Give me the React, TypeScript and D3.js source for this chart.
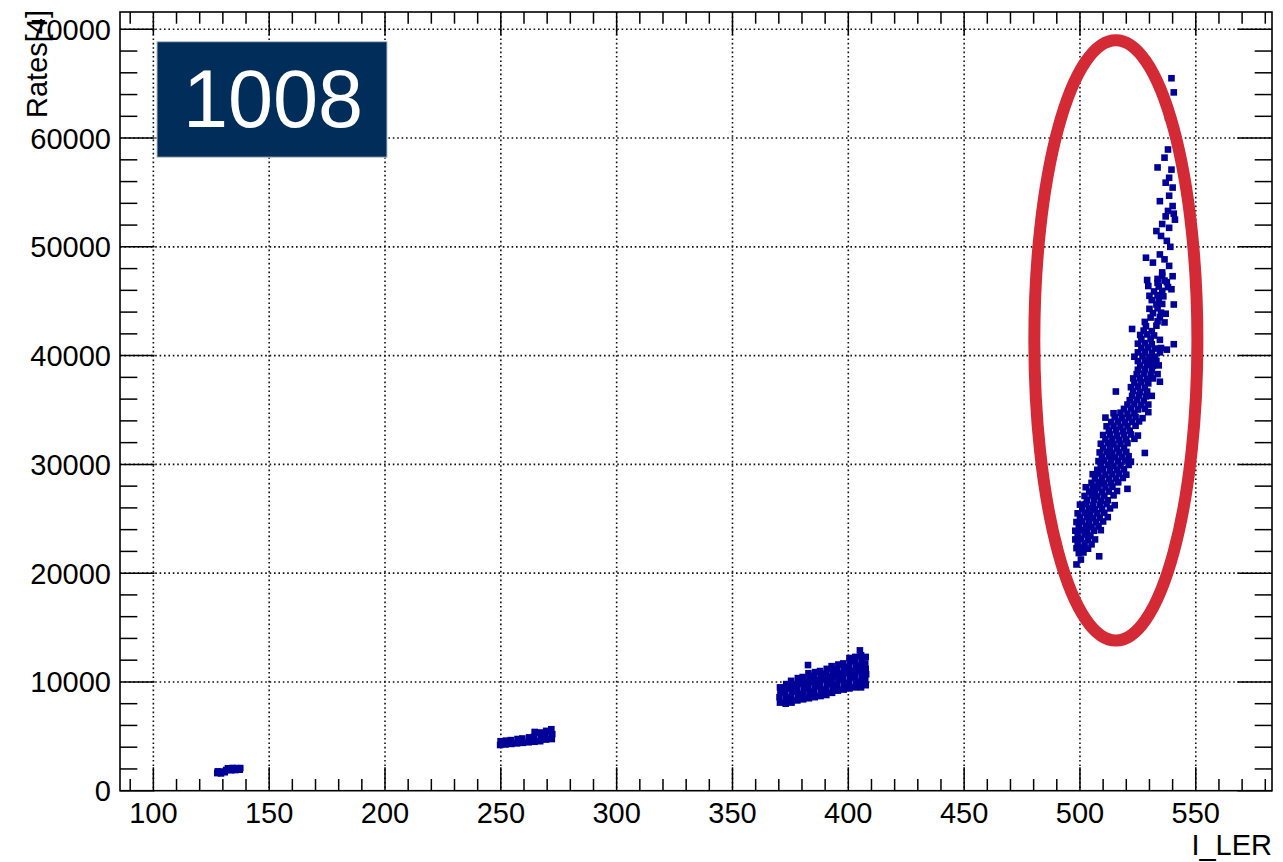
import React from "react";
import * as d3 from "d3";

// Beam current (I_LER) versus measured rate, four running periods.
const FONT = "'Liberation Sans', Arial, Helvetica, sans-serif";

const xTickValues = [100, 150, 200, 250, 300, 350, 400, 450, 500, 550];
const yTickValues = [0, 10000, 20000, 30000, 40000, 50000, 60000, 70000];
const xAxisTitle = "I_LER";
const yAxisTitle = "Rates[4]";
const runLabel = "1008";

// Period 1: lowest current
const runA: [number, number][] = [
  [127.6, 1620], [127.8, 1780], [129.2, 1590], [129.6, 1760], [130.8, 1700],
  [131.4, 1900], [132.2, 2060], [133.6, 1880], [134.2, 2090], [135.4, 1900],
  [136.2, 2070], [137.3, 1930], [137.5, 2080],
];

// Period 2
const runB: [number, number][] = [
  [249.7, 4200], [249.9, 4550], [252, 4250], [252.2, 4600], [254.5, 4300],
  [254.3, 4650], [257, 4350], [257.2, 4750], [259.5, 4400], [259.3, 4800],
  [262, 4450], [262.2, 4900], [264.5, 4500], [264.3, 4950], [264.6, 5400],
  [267, 4550], [267.2, 5050], [266.8, 5350], [269.5, 4700], [269.3, 5150],
  [269.6, 5500], [272, 4750], [272.2, 5200], [271.8, 5650],
];

// Period 3
const runC: [number, number][] = [
  [370.5, 8100], [370.3, 8600], [370.7, 9100], [370.5, 9500],
  [373, 8000], [373.2, 8500], [372.8, 9000], [373, 9400], [373.2, 9800],
  [375.5, 8100], [375.3, 8600], [375.7, 9100], [375.5, 9600], [375.3, 10100],
  [378, 8300], [378.2, 8800], [377.8, 9300], [378, 9800], [378.2, 10350],
  [380.5, 8400], [380.3, 8900], [380.7, 9400], [380.5, 9900], [380.3, 10450],
  [383, 8500], [383.2, 9000], [382.8, 9500], [383, 10000], [383.2, 10500], [382.8, 10800], [382.6, 11550],
  [385.5, 8600], [385.3, 9100], [385.7, 9600], [385.5, 10100], [385.3, 10550], [385.7, 10900],
  [388, 8700], [388.2, 9200], [387.8, 9700], [388, 10200], [388.2, 10650], [387.8, 11000],
  [390.5, 8800], [390.3, 9300], [390.7, 9800], [390.5, 10300], [390.3, 10750], [390.7, 11200],
  [393, 9000], [393.2, 9500], [392.8, 10000], [393, 10500], [393.2, 11000], [392.8, 11450],
  [395.5, 9200], [395.3, 9700], [395.7, 10200], [395.5, 10700], [395.3, 11150], [395.7, 11600],
  [398, 9300], [398.2, 9800], [397.8, 10300], [398, 10800], [398.2, 11300], [397.8, 11700],
  [400.5, 9400], [400.3, 9900], [400.7, 10400], [400.5, 10900], [400.3, 11400], [400.7, 11900], [400.5, 12200],
  [403, 9500], [403.2, 10000], [402.8, 10500], [403, 11000], [403.2, 11500], [402.8, 12000], [403, 12300],
  [405.5, 9500], [405.3, 10000], [405.7, 10500], [405.5, 11000], [405.3, 11500], [405.7, 12000], [405.5, 12450], [405, 12900],
  [407.5, 9700], [407.3, 10200], [407.7, 10700], [407.5, 11200], [407.3, 11700], [407.5, 12300],
];

// Period 4: highest current, steep rise
const runD: [number, number][] = [
  [498.5, 20800], [500.4, 21250], [508.3, 21550], [499.5, 21850], [501.5, 21900],
  [498.5, 22300], [501, 22350], [503.5, 22250],
  [499, 22700], [502, 22750], [505, 22650],
  [498, 23100], [500.5, 23150], [503.5, 23050], [506.5, 23100],
  [499, 23500], [502, 23550], [504.5, 23450],
  [498, 23900], [500.5, 23950], [503, 23850], [506, 23900], [509, 23950],
  [499.5, 24300], [502.5, 24350], [505, 24250], [508, 24300],
  [498.5, 24700], [501, 24750], [504, 24650], [507, 24700], [510, 24750],
  [500, 25100], [503, 25150], [505.5, 25050], [508.5, 25100], [512, 25150],
  [499, 25500], [502, 25550], [504.5, 25450], [507.5, 25500], [510.5, 25550],
  [501, 25900], [504, 25950], [506.5, 25850], [509.5, 25900], [513, 25950],
  [500, 26300], [502.5, 26350], [505.5, 26250], [508.5, 26300], [511.5, 26350], [515, 26250],
  [503, 26700], [506, 26750], [509, 26650], [512, 26700],
  [502, 27100], [505, 27150], [507.5, 27050], [510.5, 27100], [514.5, 27150],
  [504, 27500], [506.5, 27550], [509.5, 27450], [512.5, 27500], [516, 27550],
  [502.5, 27900], [505.5, 27950], [508, 27850], [511, 27900], [514, 27950], [520.5, 27750],
  [505, 28300], [508, 28350], [510.5, 28250], [513.5, 28300], [516.5, 28350],
  [506.5, 28700], [509.5, 28750], [512.5, 28650], [515.5, 28700], [518.5, 28750],
  [505.5, 29100], [508, 29150], [511, 29050], [514, 29100], [517, 29150], [520, 29050],
  [507.5, 29500], [510, 29550], [513, 29450], [516, 29500], [519, 29550],
  [509, 29900], [512, 29950], [514.5, 29850], [517.5, 29900], [521, 29950],
  [508, 30300], [510.5, 30350], [513.5, 30250], [516.5, 30300], [519.5, 30350], [522, 30250],
  [509.5, 30700], [512.5, 30750], [515, 30650], [518, 30700], [521, 30750],
  [508.5, 31100], [511.5, 31150], [514, 31050], [517, 31100], [520, 31150], [528, 31050],
  [510, 31500], [513, 31550], [516, 31450], [519, 31500],
  [509, 31900], [512, 31950], [514.5, 31850], [517.5, 31900], [520.5, 31950],
  [511, 32300], [514, 32350], [517, 32250], [520, 32300], [523.5, 32350],
  [510, 32700], [513, 32750], [516, 32650], [519, 32700], [522, 32750], [525, 32650],
  [512.5, 33100], [515.5, 33150], [518.5, 33050], [521.5, 33100],
  [511.5, 33500], [514.5, 33550], [517.5, 33450], [520.5, 33500], [524, 33550],
  [513.5, 33900], [516.5, 33950], [519.5, 33850], [522.5, 33900], [525.5, 33950],
  [511, 34300], [515, 34350], [518, 34250], [521, 34300], [524, 34350], [527, 34250],
  [514.5, 34700], [517.5, 34750], [520.5, 34650], [523.5, 34700], [529.5, 34800],
  [519, 35100], [522, 35150], [525, 35050], [528, 35100],
  [520.5, 35500], [523.5, 35550], [526.5, 35450], [529.5, 35500],
  [521.5, 35900], [524.5, 35950], [527.5, 35850],
  [522.5, 36300], [525.5, 36350], [528.5, 36250], [531, 36300],
  [515.5, 36700], [523, 36750], [526, 36650], [529, 36700],
  [522, 37100], [525, 37150], [528, 37050],
  [523.5, 37500], [526.5, 37550], [529.5, 37450], [534.5, 37600],
  [523, 37900], [526, 37950], [529, 37850], [531.5, 37900],
  [524.5, 38300], [527.5, 38350], [530.5, 38250], [533.5, 38300],
  [525, 38700], [528, 38750], [531, 38650],
  [526, 39100], [529, 39150], [531.5, 39050], [534, 39100],
  [525, 39500], [528, 39550], [530.5, 39450], [533, 39500],
  [523.5, 39900], [527, 39950], [530, 39850], [532.5, 39900],
  [525, 40300], [528, 40350], [531, 40250], [534.5, 40300], [537.5, 40550],
  [526.5, 40700], [529.5, 40750], [532.5, 40650], [535, 40700],
  [525, 41100], [528, 41150], [531, 41050], [540.5, 41050],
  [526.5, 41500], [530.5, 41550], [534.5, 41450],
  [526, 41900], [529, 41950], [532, 41850],
  [522.5, 42450], [527.5, 42300], [531, 42250],
  [528.5, 42700], [533, 42750],
  [528, 43100], [533.5, 43150], [536.5, 43050],
  [530.5, 43500], [534.5, 43550],
  [531.5, 43900], [535, 43950], [537, 43850],
  [530, 44300], [533.5, 44350],
  [533, 44700], [535.5, 44750], [540.5, 44700],
  [531, 45100], [534, 45150],
  [530, 45500], [533.5, 45550], [536, 45450],
  [532, 45900], [535.5, 45950], [539.5, 46100],
  [529.5, 46400], [534, 46350], [537.5, 46750],
  [533.5, 46700], [538, 46300],
  [529, 46950], [533.5, 47050], [536.5, 46900],
  [535.5, 47350], [540, 47300],
  [535.5, 47650],
  [538.5, 48250], [531.5, 48550], [536.5, 48850], [528.5, 49000], [534.5, 49300],
  [539, 50000], [537.5, 50550], [535, 51000], [533, 51450], [538.5, 51750],
  [535.5, 52100], [541, 52500], [537, 52800], [540.5, 53050], [538, 53300],
  [540, 53750], [534.5, 54200], [538.5, 54700], [540, 55450], [537, 55900],
  [538.5, 56350], [539.5, 57100], [533.5, 57300], [536.5, 58200], [538, 58950],
  [538, 61900], [540.5, 64200], [539.5, 65500],
];

// Highlight ring around the high-current period (centre, half-axes in data units)
const highlight = { cx: 515.5, cy: 41400, rx: 35.2, ry: 27600 };

const W = 1283;
const H = 862;
const plot = { left: 120, top: 12, right: 1272, bottom: 790.7 };

export default function App() {
  const x = d3.scaleLinear().domain([85.6, 582.9]).range([plot.left, plot.right]);
  const y = d3.scaleLinear().domain([0, 71590]).range([plot.bottom, plot.top]);

  const xMinor = d3.range(90, 582, 10).filter((v) => v % 50 !== 0);
  const yMinor = d3.range(0, 71590, 2000).filter((v) => v % 10000 !== 0);

  const xMajLen = 23.4;
  const yMajLen = 34.6;
  const tickStroke = { stroke: "#000", strokeWidth: 1.5 };
  const gridStyle = { stroke: "#111", strokeWidth: 1.6, strokeDasharray: "1.6 2.8" };

  const points = [...runA, ...runB, ...runC, ...runD];
  const ms = 6.6;

  return (
    <svg
      width={W}
      height={H}
      style={{ position: "absolute", left: 0, top: 0, background: "#fff" }}
      fontFamily={FONT}
    >
      <rect x={0} y={0} width={W} height={H} fill="#fff" />

      {/* grid */}
      {xTickValues.map((v) => (
        <line key={"gx" + v} x1={x(v)} x2={x(v)} y1={plot.top} y2={plot.bottom} {...gridStyle} />
      ))}
      {yTickValues.filter((v) => v > 0).map((v) => (
        <line key={"gy" + v} x1={plot.left} x2={plot.right} y1={y(v)} y2={y(v)} {...gridStyle} />
      ))}

      {/* markers */}
      <g fill="#000099">
        {points.map(([a, b], i) => (
          <rect key={i} x={x(a) - ms / 2} y={y(b) - ms / 2} width={ms} height={ms} />
        ))}
      </g>

      {/* frame */}
      <rect
        x={plot.left}
        y={plot.top}
        width={plot.right - plot.left}
        height={plot.bottom - plot.top}
        fill="none"
        stroke="#000"
        strokeWidth={1.6}
      />

      {/* x ticks, bottom and top */}
      {xTickValues.map((v) => (
        <g key={"xt" + v}>
          <line x1={x(v)} x2={x(v)} y1={plot.bottom} y2={plot.bottom - xMajLen} {...tickStroke} />
          <line x1={x(v)} x2={x(v)} y1={plot.top} y2={plot.top + xMajLen} {...tickStroke} />
        </g>
      ))}
      {xMinor.map((v) => (
        <g key={"xm" + v}>
          <line x1={x(v)} x2={x(v)} y1={plot.bottom} y2={plot.bottom - xMajLen / 2} {...tickStroke} />
          <line x1={x(v)} x2={x(v)} y1={plot.top} y2={plot.top + xMajLen / 2} {...tickStroke} />
        </g>
      ))}

      {/* y ticks, left and right */}
      {yTickValues.map((v) => (
        <g key={"yt" + v}>
          <line x1={plot.left} x2={plot.left + yMajLen} y1={y(v)} y2={y(v)} {...tickStroke} />
          <line x1={plot.right} x2={plot.right - yMajLen} y1={y(v)} y2={y(v)} {...tickStroke} />
        </g>
      ))}
      {yMinor.map((v) => (
        <g key={"ym" + v}>
          <line x1={plot.left} x2={plot.left + yMajLen / 2} y1={y(v)} y2={y(v)} {...tickStroke} />
          <line x1={plot.right} x2={plot.right - yMajLen / 2} y1={y(v)} y2={y(v)} {...tickStroke} />
        </g>
      ))}

      {/* tick labels */}
      <g fontSize={29} fill="#000">
        {xTickValues.map((v) => (
          <text key={"xl" + v} x={x(v)} y={823} textAnchor="middle">
            {v}
          </text>
        ))}
        {yTickValues.map((v) => (
          <text key={"yl" + v} x={111} y={y(v) + 10.5} textAnchor="end">
            {v}
          </text>
        ))}
      </g>

      {/* axis titles */}
      <text x={plot.right} y={855} textAnchor="end" fontSize={29} fill="#000">
        {xAxisTitle}
      </text>
      <text
        transform={`translate(47,10) rotate(-90)`}
        textAnchor="end"
        fontSize={29}
        fill="#000"
      >
        {yAxisTitle}
      </text>

      {/* run label */}
      <rect x={157} y={41.7} width={230} height={115.5} fill="#002d5a" stroke="#b9c2cc" strokeWidth={1} />
      <text x={273} y={127} textAnchor="middle" fontSize={81} fill="#fff">
        {runLabel}
      </text>

      {/* highlight ring */}
      <ellipse
        cx={x(highlight.cx)}
        cy={y(highlight.cy)}
        rx={x(highlight.cx + highlight.rx) - x(highlight.cx)}
        ry={y(highlight.cy - highlight.ry) - y(highlight.cy)}
        fill="none"
        stroke="#d42a35"
        strokeWidth={12}
      />
    </svg>
  );
}
